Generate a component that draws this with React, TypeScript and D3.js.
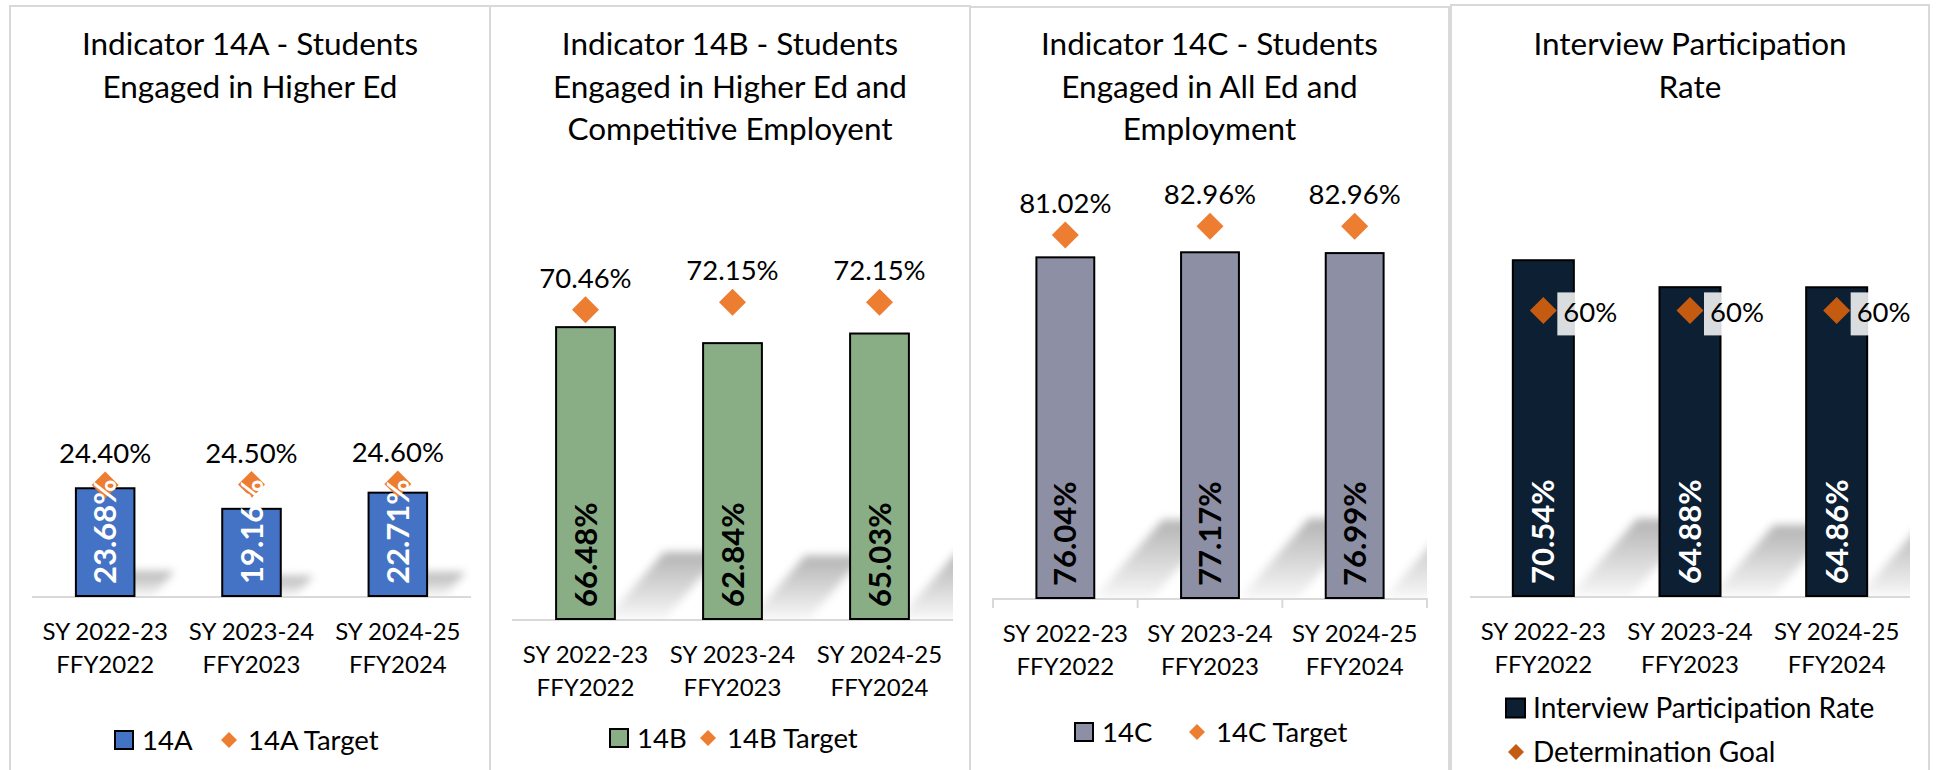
import React from "react";
import * as d3 from "d3";

// ---------- data ----------
const categoryLine1 = ["SY 2022-23", "SY 2023-24", "SY 2024-25"];
const categoryLine2 = ["FFY2022", "FFY2023", "FFY2024"];

const values14A = [23.68, 19.16, 22.71];
const target14A = [24.4, 24.5, 24.6];

const values14B = [66.48, 62.84, 65.03];
const target14B = [70.46, 72.15, 72.15];

const values14C = [76.04, 77.17, 76.99];
const target14C = [81.02, 82.96, 82.96];

const participation = [70.54, 64.88, 64.86];
const determinationGoal = [60, 60, 60];

const titleA = ["Indicator 14A - Students", "Engaged in Higher Ed"];
const titleB = ["Indicator 14B - Students", "Engaged in Higher Ed and", "Competitive Employent"];
const titleC = ["Indicator 14C - Students", "Engaged in All Ed and", "Employment"];
const titleD = ["Interview Participation", "Rate"];

const legendA = ["14A", "14A Target"];
const legendB = ["14B", "14B Target"];
const legendC = ["14C", "14C Target"];
const legendD = ["Interview Participation Rate", "Determination Goal"];

// ---------- layout / style ----------
const W = 1937;
const H = 770;
const FONT = "Lato, 'Noto Sans', sans-serif";
const BORDER = "#D9D9D9";

type Panel = {
  id: string;
  left: number;
  top: number;
  width: number;
  title: string[];
  values: number[];
  targets: number[];
  legend: string[];
  barColor: string;
  barLabelColor: string;
  targetColor: string;
  plot: { x0: number; x1: number; base: number; top: number };
  ticks: boolean;
  goalStyle: boolean;
  legendLayout: { sq: number; sqY: number; dia: number; diaY: number; sqSize: number };
};

const panels: Panel[] = [
  {
    id: "A", left: 10, top: 6, width: 480, title: titleA, values: values14A, targets: target14A, legend: legendA,
    barColor: "#4472C4", barLabelColor: "#FFFFFF", targetColor: "#ED7D31",
    plot: { x0: 32, x1: 471, base: 596, top: 141 }, ticks: false, goalStyle: false,
    legendLayout: { sq: 115, sqY: 740, dia: 229, diaY: 740, sqSize: 18 },
  },
  {
    id: "B", left: 490, top: 6, width: 480, title: titleB, values: values14B, targets: target14B, legend: legendB,
    barColor: "#89AE86", barLabelColor: "#000000", targetColor: "#ED7D31",
    plot: { x0: 512, x1: 953, base: 619, top: 180 }, ticks: false, goalStyle: false,
    legendLayout: { sq: 610, sqY: 738, dia: 708, diaY: 738, sqSize: 18 },
  },
  {
    id: "C", left: 970, top: 7, width: 479, title: titleC, values: values14C, targets: target14C, legend: legendC,
    barColor: "#8D8FA5", barLabelColor: "#000000", targetColor: "#ED7D31",
    plot: { x0: 993, x1: 1427, base: 598, top: 150 }, ticks: true, goalStyle: false,
    legendLayout: { sq: 1075, sqY: 732, dia: 1197, diaY: 732, sqSize: 18 },
  },
  {
    id: "D", left: 1451, top: 5, width: 478, title: titleD, values: participation, targets: determinationGoal, legend: legendD,
    barColor: "#0D1F33", barLabelColor: "#FFFFFF", targetColor: "#C55A11",
    plot: { x0: 1470, x1: 1910, base: 596, top: 120 }, ticks: false, goalStyle: true,
    legendLayout: { sq: 1506, sqY: 708, dia: 1516, diaY: 752, sqSize: 19 },
  },
];

const diamond = (area: number) => d3.symbol().type(d3.symbolSquare).size(area)() as string;

function PanelChart({ p }: { p: Panel }) {
  const x = d3
    .scaleBand<number>()
    .domain(d3.range(p.values.length))
    .range([p.plot.x0, p.plot.x1])
    .paddingInner(0.6)
    .paddingOuter(0.3);
  const xOuter = d3.scaleBand<number>().domain(d3.range(p.values.length)).range([p.plot.x0, p.plot.x1]);
  const y = d3.scaleLinear().domain([0, 100]).range([p.plot.base, p.plot.top]);
  const bw = p.goalStyle ? x.bandwidth() * 1.04 : x.bandwidth();
  const cx = (i: number) => (x(i) as number) + x.bandwidth() / 2;
  const base = p.plot.base;
  const midX = p.left + p.width / 2;
  const titleBase = 55;
  const lineGap = 42.5;

  return (
    <g>
      <rect x={p.left} y={p.top} width={p.width} height={820} fill="#FFFFFF" stroke={BORDER} strokeWidth={2} />
      {p.title.map((t, i) => (
        <text key={i} x={midX} y={titleBase + i * lineGap} textAnchor="middle" fontSize={31.5} fill="#000">
          {t}
        </text>
      ))}
      <clipPath id={`clip${p.id}`}>
        <rect x={p.plot.x0} y={0} width={p.plot.x1 - p.plot.x0} height={base} />
      </clipPath>
      <g clipPath={`url(#clip${p.id})`}>
        {p.values.map((v, i) => {
          const h = base - y(v);
          const x0 = cx(i) - bw / 2;
          const x1 = cx(i) + bw / 2;
          const off = 0.17 * h;
          const dx = 0.2 * h;
          const dy = 0.23 * h;
          const pts = [
            [x0 + off, base],
            [x1 + off, base],
            [x1 + off + dx, base - dy],
            [x0 + off + dx, base - dy],
          ]
            .map((q) => q.join(","))
            .join(" ");
          return <polygon key={i} points={pts} fill="url(#shGrad)" filter="url(#shBlur)" />;
        })}
      </g>
      <line x1={p.plot.x0} x2={p.plot.x1} y1={base + 1} y2={base + 1} stroke={BORDER} strokeWidth={2} />
      {p.ticks &&
        d3.range(p.values.length + 1).map((i) => {
          const tx = i < p.values.length ? (xOuter(i) as number) : p.plot.x1;
          return <line key={i} x1={tx} x2={tx} y1={base} y2={base + 10} stroke={BORDER} strokeWidth={2} />;
        })}
      {p.values.map((v, i) => (
        <rect
          key={i}
          x={cx(i) - bw / 2}
          y={y(v)}
          width={bw}
          height={base - y(v)}
          fill={p.barColor}
          stroke="#000"
          strokeWidth={2}
        />
      ))}
      {p.goalStyle &&
        p.targets.map((t, i) => (
          <g key={i}>
            <rect x={cx(i) + 14} y={y(t) - 18} width={66} height={43} fill="#FFFFFF" fillOpacity={0.85} />
            <text x={cx(i) + 20} y={y(t) + 12} fontSize={27.5} fill="#000">
              {`${t}%`}
            </text>
          </g>
        ))}
      {p.targets.map((t, i) => (
        <path key={i} d={diamond(365)} transform={`translate(${cx(i)},${y(t)}) rotate(45)`} fill={p.targetColor} />
      ))}
      {!p.goalStyle &&
        p.targets.map((t, i) => (
          <text key={i} x={cx(i)} y={y(t) - 22} textAnchor="middle" fontSize={27.5} fill="#000">
            {`${t.toFixed(2)}%`}
          </text>
        ))}
      {p.values.map((v, i) => (
        <text
          key={i}
          transform={`translate(${cx(i) + 11},${base - 12}) rotate(-90)`}
          fontSize={31}
          fontWeight={700}
          fill={p.barLabelColor}
        >
          {`${v.toFixed(2)}%`}
        </text>
      ))}
      {p.values.map((_, i) => (
        <g key={i}>
          <text x={cx(i)} y={base + 44} textAnchor="middle" fontSize={24} fill="#000">
            {categoryLine1[i]}
          </text>
          <text x={cx(i)} y={base + 77} textAnchor="middle" fontSize={24} fill="#000">
            {categoryLine2[i]}
          </text>
        </g>
      ))}
      <g>
        <rect
          x={p.legendLayout.sq}
          y={p.legendLayout.sqY - p.legendLayout.sqSize / 2}
          width={p.legendLayout.sqSize}
          height={p.legendLayout.sqSize}
          fill={p.barColor}
          stroke="#000"
          strokeWidth={2}
        />
        <text x={p.legendLayout.sq + 27} y={p.legendLayout.sqY + 10} fontSize={p.goalStyle ? 28 : 27.5} fill="#000">
          {p.legend[0]}
        </text>
        <path
          d={diamond(128)}
          transform={`translate(${p.legendLayout.dia},${p.legendLayout.diaY}) rotate(45)`}
          fill={p.targetColor}
        />
        <text
          x={p.legendLayout.dia + (p.goalStyle ? 17 : 19)}
          y={p.legendLayout.diaY + 10}
          fontSize={p.goalStyle ? 28 : 27.5}
          fill="#000"
        >
          {p.legend[1]}
        </text>
      </g>
    </g>
  );
}

export default function App() {
  return (
    <div style={{ position: "fixed", left: 0, top: 0, width: W, height: H, overflow: "hidden", background: "#fff" }}>
      <svg width={W} height={H} style={{ display: "block", fontFamily: FONT }}>
        <defs>
          <linearGradient id="shGrad" x1="0" y1="1" x2="0" y2="0">
            <stop offset="0" stopColor="#000" stopOpacity={0.03} />
            <stop offset="1" stopColor="#000" stopOpacity={0.3} />
          </linearGradient>
          <filter id="shBlur" x="-50%" y="-50%" width="200%" height="200%">
            <feGaussianBlur stdDeviation={4} />
          </filter>
        </defs>
        <rect x={0} y={0} width={W} height={H} fill="#fff" />
        {panels.map((p) => (
          <PanelChart key={p.id} p={p} />
        ))}
      </svg>
    </div>
  );
}
